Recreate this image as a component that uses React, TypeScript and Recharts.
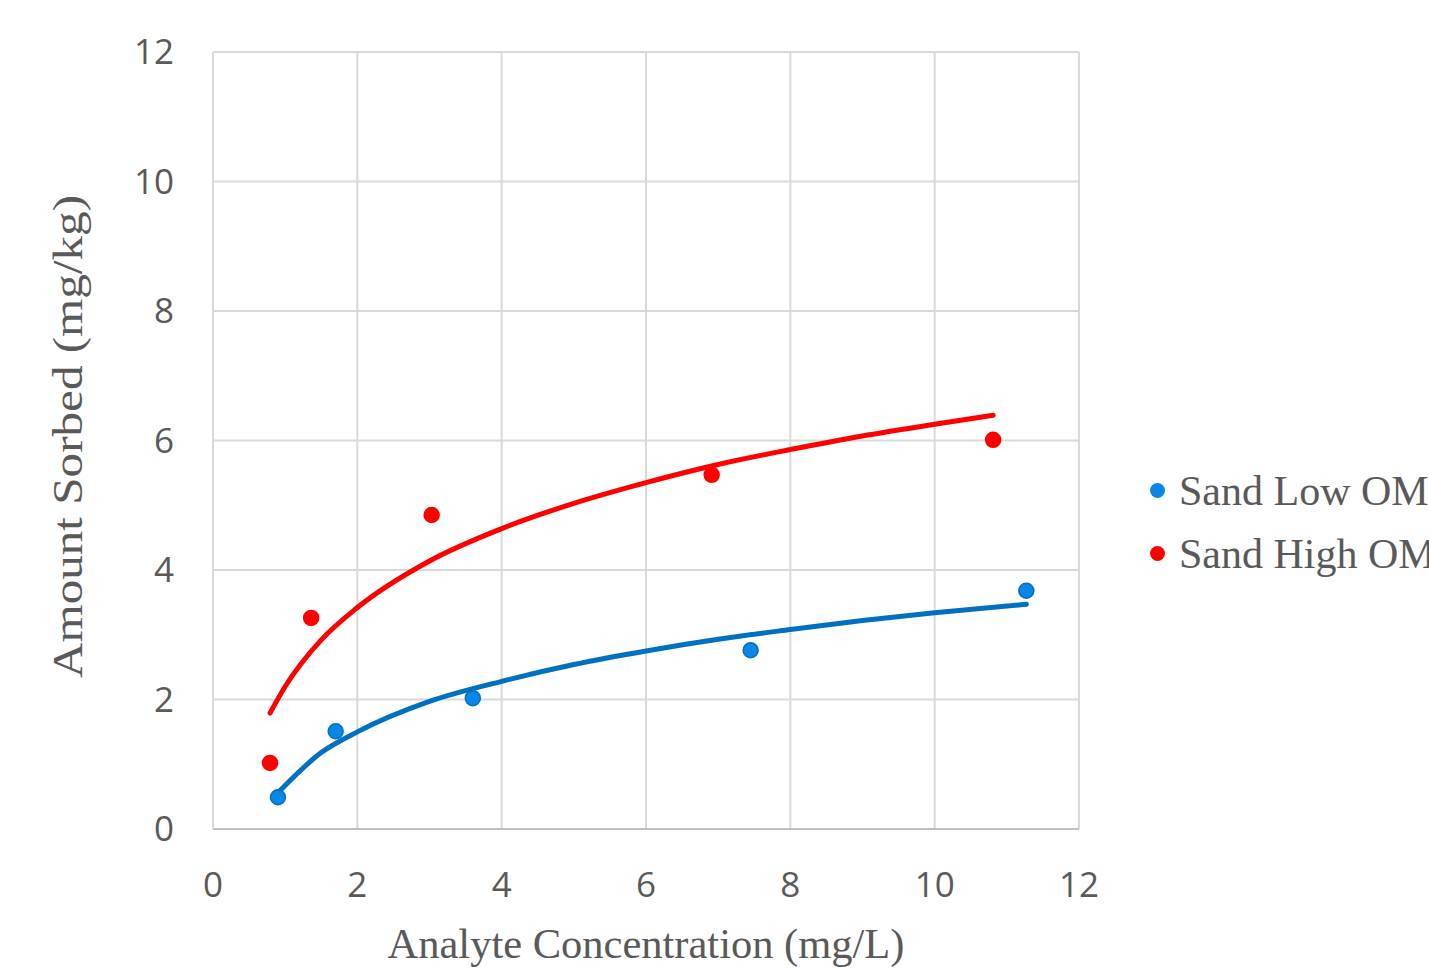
import {
  ComposedChart,
  Scatter,
  Line,
  XAxis,
  YAxis,
  CartesianGrid,
  Label,
} from 'recharts'

// measured points
const lowOmX = [0.9, 1.7, 3.6, 7.45, 11.27]
const lowOmY = [0.49, 1.51, 2.02, 2.76, 3.68]
const highOmX = [0.79, 1.36, 3.03, 6.91, 10.81]
const highOmY = [1.02, 3.26, 4.85, 5.47, 6.01]

// trend curves
const lowTrendX = [0.9, 1.5, 2, 3, 4, 5, 6, 7, 8, 9, 10, 11.27]
const lowTrendY = [0.56, 1.18, 1.5, 1.97, 2.28, 2.54, 2.75, 2.93, 3.08, 3.22, 3.34, 3.47]
const highTrendX = [0.79, 1, 1.5, 2, 3, 4, 5, 6, 7, 8, 9, 10, 10.81]
const highTrendY = [1.79, 2.2, 2.92, 3.42, 4.14, 4.64, 5.03, 5.35, 5.63, 5.86, 6.07, 6.25, 6.39]

const ticks = [0, 2, 4, 6, 8, 10, 12]

const seriesNames = ['Sand Low OM', 'Sand High OM']
const seriesFill = ['#0A86E6', '#FF0000']
const seriesLine = ['#0070C0', '#FF0000']

const zip = (xs: number[], ys: number[]) => xs.map((x, i) => ({ x, y: ys[i] }))

const lowPts = zip(lowOmX, lowOmY)
const highPts = zip(highOmX, highOmY)
const lowTrend = zip(lowTrendX, lowTrendY)
const highTrend = zip(highTrendX, highTrendY)

const textColor = '#595959'
const serif = '"Liberation Serif", "Times New Roman", serif'
const sans = '"Open Sans", "Liberation Sans", sans-serif'

function LegendBox() {
  return (
    <div
      style={{
        position: 'absolute',
        left: 1150,
        top: 459,
        fontFamily: serif,
        fontSize: 42,
        color: textColor,
        whiteSpace: 'nowrap',
      }}
    >
      {seriesNames.map((name, i) => (
        <div key={name} style={{ display: 'flex', alignItems: 'center', height: 63 }}>
          <span
            style={{
              display: 'inline-block',
              width: 15,
              height: 15,
              borderRadius: 8,
              background: seriesFill[i],
              marginRight: 14,
            }}
          />
          {name}
        </div>
      ))}
    </div>
  )
}

export default function App() {
  return (
    <div style={{ position: 'absolute', left: 0, top: 0, width: 1429, height: 969, overflow: 'hidden', background: '#fff' }}>
      <ComposedChart width={1429} height={969} margin={{ top: 52, right: 350, left: 33, bottom: 25 }}>
        <CartesianGrid stroke="#D9D9D9" strokeWidth={2} />
        <XAxis
          type="number"
          dataKey="x"
          domain={[0, 12]}
          ticks={ticks}
          axisLine={{ stroke: '#BFBFBF', strokeWidth: 2 }}
          tickLine={false}
          tick={{ fill: textColor, fontSize: 35, fontFamily: sans }}
          tickMargin={37}
          height={115}
          allowDataOverflow
        >
          <Label
            content={({ viewBox }: any) => (
              <text
                x={viewBox.x + viewBox.width / 2}
                y={viewBox.y + 129}
                textAnchor="middle"
                fill={textColor}
                fontSize={42.5}
                fontFamily={serif}
              >
                Analyte Concentration (mg/L)
              </text>
            )}
          />
        </XAxis>
        <YAxis
          type="number"
          dataKey="y"
          domain={[0, 12]}
          ticks={ticks}
          axisLine={{ stroke: '#D9D9D9', strokeWidth: 2 }}
          tickLine={false}
          tick={{ fill: textColor, fontSize: 35, fontFamily: sans }}
          tickMargin={33}
          width={180}
        >
          <Label
            content={({ viewBox }: any) => {
              const cx = viewBox.x + 34
              const cy = viewBox.y + viewBox.height / 2 - 4
              return (
                <text
                  x={cx}
                  y={cy}
                  transform={`rotate(-90 ${cx} ${cy})`}
                  textAnchor="middle"
                  dominantBaseline="central"
                  fill={textColor}
                  fontSize={43}
                  fontFamily={serif}
                  textLength={483}
                  lengthAdjust="spacingAndGlyphs"
                >
                  Amount Sorbed (mg/kg)
                </text>
              )
            }}
          />
        </YAxis>
        <Line
          data={lowTrend}
          dataKey="y"
          type="monotone"
          stroke={seriesLine[0]}
          strokeWidth={5}
          strokeLinecap="round"
          dot={false}
          activeDot={false}
          legendType="none"
          isAnimationActive={false}
        />
        <Line
          data={highTrend}
          dataKey="y"
          type="monotone"
          stroke={seriesLine[1]}
          strokeWidth={5}
          strokeLinecap="round"
          dot={false}
          activeDot={false}
          legendType="none"
          isAnimationActive={false}
        />
        <Scatter
          name={seriesNames[0]}
          data={lowPts}
          dataKey="y"
          isAnimationActive={false}
          shape={(p: any) => <circle cx={p.cx} cy={p.cy} r={7.5} fill={seriesFill[0]} stroke={seriesLine[0]} strokeWidth={1.5} />}
        />
        <Scatter
          name={seriesNames[1]}
          data={highPts}
          dataKey="y"
          isAnimationActive={false}
          shape={(p: any) => <circle cx={p.cx} cy={p.cy} r={7.5} fill={seriesFill[1]} stroke={seriesLine[1]} strokeWidth={1.5} />}
        />
      </ComposedChart>
      <LegendBox />
    </div>
  )
}
